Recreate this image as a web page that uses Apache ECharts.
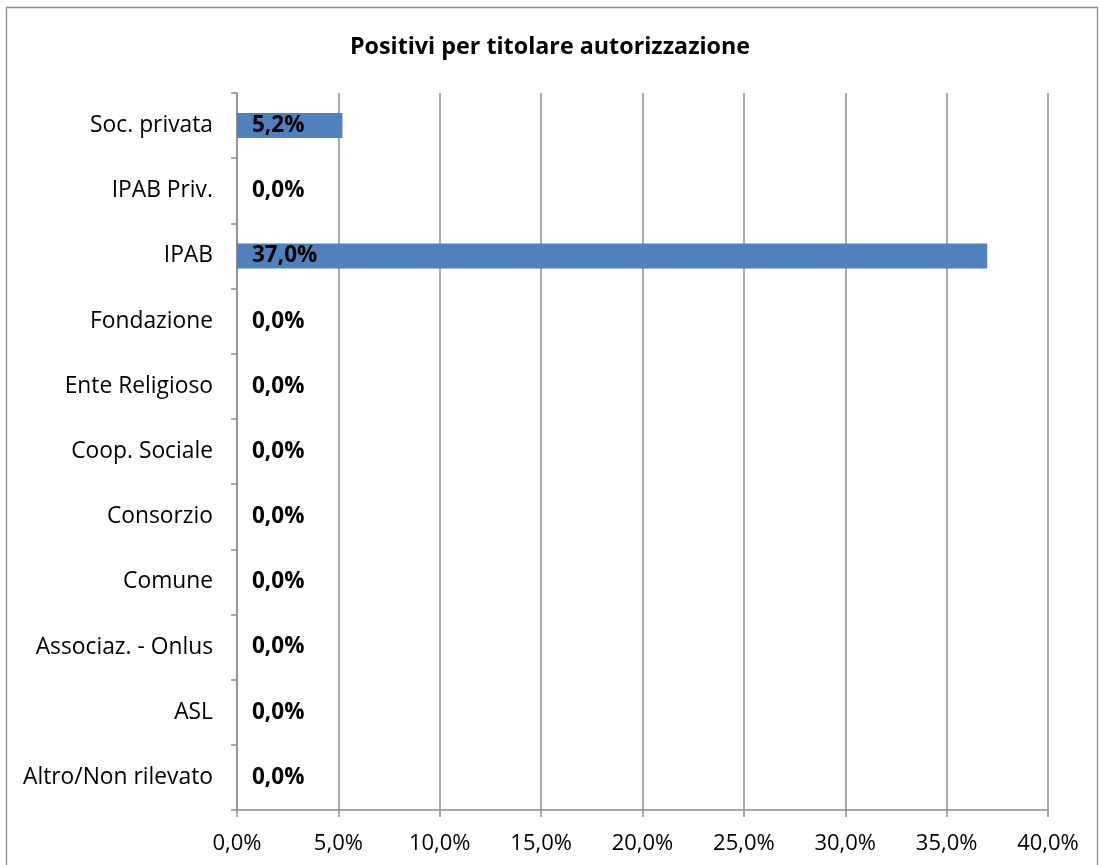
<!DOCTYPE html>
<html>
<head>
<meta charset="utf-8">
<script src="https://cdn.jsdelivr.net/npm/echarts@6/dist/echarts.min.js"></script>
<style>html,body{margin:0;padding:0;background:#fff;}#c{width:1100px;height:865px;}</style>
</head>
<body>
<div id="c"></div>
<script>
var titleText = 'Positivi per titolare autorizzazione';
var categories = ['Soc. privata', 'IPAB Priv.', 'IPAB', 'Fondazione', 'Ente Religioso', 'Coop. Sociale', 'Consorzio', 'Comune', 'Associaz. - Onlus', 'ASL', 'Altro/Non rilevato'];
var values = [5.2, 0.0, 37.0, 0.0, 0.0, 0.0, 0.0, 0.0, 0.0, 0.0, 0.0];
var xMin = 0, xMax = 40, xStep = 5;

function pct(v) { return v.toFixed(1).replace('.', ',') + '%'; }

var font = '"Open Sans", Lato, sans-serif';
var chart = echarts.init(document.getElementById('c'));
chart.setOption({
  animation: false,
  backgroundColor: '#fff',
  graphic: [{
    type: 'rect', shape: { x: 6.5, y: 7.5, width: 1091, height: 870 },
    style: { fill: 'none', stroke: '#8c8c8c', lineWidth: 1.3 }, silent: true, z: -1
  }],
  title: {
    text: titleText, left: 'center', top: 31,
    textStyle: { fontFamily: font, fontSize: 23.3, fontWeight: 'bold', color: '#000' }
  },
  grid: { left: 237, right: 52, top: 93, bottom: 55, containLabel: false },
  xAxis: {
    type: 'value', min: xMin, max: xMax, interval: xStep,
    axisLine: { show: true, lineStyle: { color: '#8c8c8c', width: 1.5 } },
    axisTick: { show: true, length: 7, lineStyle: { color: '#8c8c8c', width: 1.5 } },
    splitLine: { show: true, lineStyle: { color: '#8c8c8c', width: 1.5 } },
    axisLabel: { formatter: function (v) { return pct(v); }, margin: 23, fontFamily: font, fontSize: 22, color: '#000' }
  },
  yAxis: {
    type: 'category', data: categories, inverse: true,
    axisLine: { show: true, lineStyle: { color: '#8c8c8c', width: 1.5 } },
    axisTick: { show: true, length: 6, lineStyle: { color: '#8c8c8c', width: 1.5 } },
    splitLine: { show: false },
    axisLabel: { margin: 24, fontFamily: font, fontSize: 22.8, color: '#000' }
  },
  series: [{
    type: 'bar', data: values, barWidth: 25,
    itemStyle: { color: '#4f81bd' },
    label: {
      show: true, position: 'insideLeft', distance: 15,
      formatter: function (p) { return pct(p.value); },
      fontFamily: font, fontSize: 22.5, fontWeight: 'bold', color: '#000'
    }
  }]
});
</script>
</body>
</html>
